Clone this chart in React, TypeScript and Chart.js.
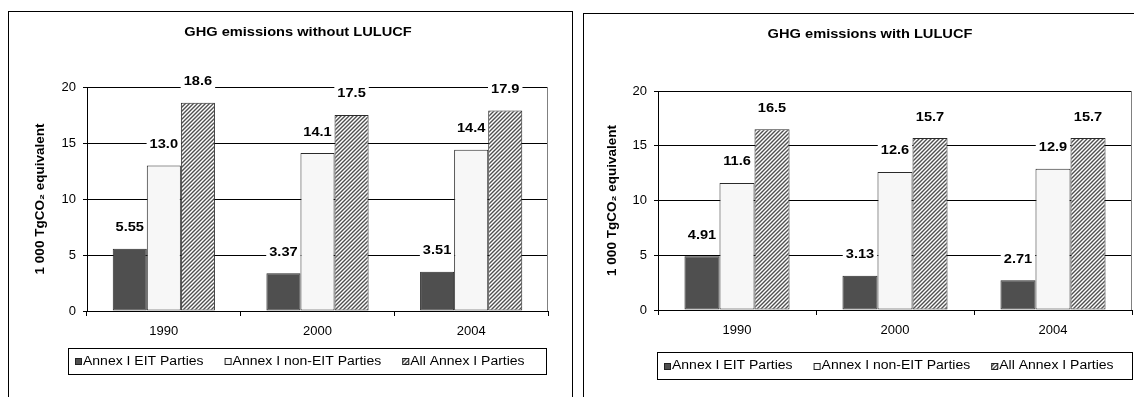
import React, { useEffect, useRef } from "react";
import { Chart, registerables } from "chart.js";

Chart.register(...registerables);

// ---------- data ----------
const categories = ["1990", "2000", "2004"];
const seriesLabels = ["Annex I EIT Parties", "Annex I non-EIT Parties", "All Annex I Parties"];
const withoutEIT = [5.55, 3.37, 3.51];
const withoutNonEIT = [13.0, 14.1, 14.4];
const withoutAll = [18.6, 17.5, 17.9];
const withEIT = [4.91, 3.13, 2.71];
const withNonEIT = [11.6, 12.6, 12.9];
const withAll = [16.5, 15.7, 15.7];
const yTickValues = [0, 5, 10, 15, 20];
const valueDecimals = [2, 1, 1];
const leftTitle = "GHG emissions without LULUCF";
const rightTitle = "GHG emissions with LULUCF";
const yAxisLabel = "1 000 TgCO₂ equivalent";

// ---------- style ----------
const FONT = "'Liberation Sans', Arial, Helvetica, sans-serif";
const SX = 1.17; // horizontal text stretch seen in the reference
const LEGEND_SX = 1.12;
const LABEL_OFF = 21;

type Box = { x: number; y: number; w: number; h: number };
type Layout = {
  width: number;
  height: number;
  plotLeft: number;
  plotRight: number;
  plotTop: number;
  plotBottom: number;
  xAxisH: number;
  titleX: number;
  titleY: number;
  yTitleX: number;
  legend: Box;
};

function makeHatch(ctx: CanvasRenderingContext2D): CanvasPattern | string {
  const p = 4;
  const c = document.createElement("canvas");
  c.width = p;
  c.height = p;
  const g = c.getContext("2d")!;
  g.fillStyle = "#ffffff";
  g.fillRect(0, 0, p, p);
  g.strokeStyle = "#505050";
  g.lineWidth = 1.4;
  g.beginPath();
  g.moveTo(0, p);
  g.lineTo(p, 0);
  g.moveTo(-1, 1);
  g.lineTo(1, -1);
  g.moveTo(p - 1, p + 1);
  g.lineTo(p + 1, p - 1);
  g.stroke();
  return ctx.createPattern(c, "repeat") ?? "#999999";
}

function stretchedText(
  ctx: CanvasRenderingContext2D,
  text: string,
  x: number,
  y: number,
  align: "left" | "center",
  sx: number
): number {
  const w = ctx.measureText(text).width * sx;
  const x0 = align === "center" ? x - w / 2 : x;
  ctx.save();
  ctx.translate(x0, y);
  ctx.scale(sx, 1);
  ctx.textAlign = "left";
  ctx.fillText(text, 0, 0);
  ctx.restore();
  return w;
}

function Panel({ title, series, layout }: { title: string; series: number[][]; layout: Layout }) {
  const ref = useRef<HTMLCanvasElement>(null);

  useEffect(() => {
    const canvas = ref.current!;
    const ctx = canvas.getContext("2d")!;
    const hatch = makeHatch(ctx);
    const fills: any[] = ["#4f4f4f", "#f7f7f7", hatch];
    const L = layout;

    const decor = {
      id: "decor",
      beforeDatasetsDraw(chart: any) {
        const c: CanvasRenderingContext2D = chart.ctx;
        c.save();
        c.font = `bold 12.5px ${FONT}`;
        chart.data.datasets.forEach((ds: any, di: number) => {
          chart.getDatasetMeta(di).data.forEach((el: any, i: number) => {
            const t = (ds.data[i] as number).toFixed(valueDecimals[di]);
            const w = c.measureText(t).width * SX;
            c.fillStyle = "#ffffff";
            c.fillRect(el.x - w / 2 - 3, el.y - LABEL_OFF - 7, w + 6, 14);
          });
        });
        c.restore();
      },
      afterDatasetsDraw(chart: any) {
        const c: CanvasRenderingContext2D = chart.ctx;
        const area = chart.chartArea;
        c.save();

        // plot frame (right edge)
        c.strokeStyle = "#808080";
        c.lineWidth = 1;
        c.beginPath();
        const rx = Math.round(area.right) - 0.5;
        c.moveTo(rx, area.top);
        c.lineTo(rx, area.bottom);
        c.stroke();

        // value labels
        c.fillStyle = "#000000";
        c.textBaseline = "middle";
        c.font = `bold 12.5px ${FONT}`;
        chart.data.datasets.forEach((ds: any, di: number) => {
          chart.getDatasetMeta(di).data.forEach((el: any, i: number) => {
            const t = (ds.data[i] as number).toFixed(valueDecimals[di]);
            stretchedText(c, t, el.x, el.y - LABEL_OFF, "center", SX);
          });
        });

        // chart title
        c.font = `bold 12.5px ${FONT}`;
        stretchedText(c, title, L.titleX, L.titleY, "center", SX);

        // y-axis title
        c.save();
        c.font = `bold 13.5px ${FONT}`;
        c.translate(L.yTitleX, (area.top + area.bottom) / 2);
        c.rotate(-Math.PI / 2);
        c.textAlign = "center";
        c.fillText(yAxisLabel, 0, 0);
        c.restore();

        // legend
        const lg = L.legend;
        c.strokeStyle = "#000000";
        c.lineWidth = 1;
        c.strokeRect(lg.x + 0.5, lg.y + 0.5, lg.w, lg.h);
        c.font = `12.5px ${FONT}`;
        const cy = lg.y + lg.h / 2 + 0.5;
        let x = lg.x + 7;
        chart.data.datasets.forEach((ds: any) => {
          c.fillStyle = ds.backgroundColor;
          c.fillRect(x, Math.round(cy - 3.5), 7, 7);
          c.strokeStyle = "#222222";
          c.strokeRect(x + 0.5, Math.round(cy - 3.5) + 0.5, 6, 6);
          c.fillStyle = "#000000";
          const w = stretchedText(c, ds.label, x + 8, cy, "left", LEGEND_SX);
          x += 8 + w + 21;
        });

        c.restore();
      },
    };

    const chart = new Chart(canvas, {
      type: "bar",
      data: {
        labels: categories,
        datasets: series.map((d, i) => ({
          label: seriesLabels[i],
          data: d,
          backgroundColor: fills[i],
          borderColor: "#2a2a2a",
          borderWidth: 1,
          borderSkipped: false,
          categoryPercentage: 0.665,
          barPercentage: 1,
        })),
      },
      options: {
        responsive: false,
        maintainAspectRatio: false,
        animation: false,
        devicePixelRatio: 1,
        layout: {
          padding: {
            left: 0,
            top: L.plotTop,
            right: L.width - L.plotRight,
            bottom: L.height - L.plotBottom - L.xAxisH,
          },
        },
        plugins: {
          legend: { display: false },
          title: { display: false },
          tooltip: { enabled: false },
        },
        scales: {
          x: {
            offset: true,
            grid: {
              offset: true,
              drawOnChartArea: false,
              drawTicks: true,
              tickLength: 5,
              color: "#000000",
              lineWidth: 1,
            },
            border: { display: true, color: "#000000", width: 1 },
            ticks: { color: "#000000", font: { family: FONT, size: 13 }, padding: 8, maxRotation: 0 },
            afterFit: (s: any) => {
              s.height = L.xAxisH;
            },
          },
          y: {
            min: 0,
            max: 20,
            afterBuildTicks: (s: any) => {
              s.ticks = yTickValues.map((v) => ({ value: v }));
            },
            ticks: { color: "#000000", font: { family: FONT, size: 13 }, padding: 7 },
            grid: { color: "#000000", lineWidth: 1, tickLength: 4, drawTicks: true },
            border: { display: true, color: "#000000", width: 1 },
            afterFit: (s: any) => {
              s.width = L.plotLeft;
            },
          },
        },
      },
      plugins: [decor],
    } as any);

    return () => chart.destroy();
  }, []);

  return (
    <canvas
      ref={ref}
      width={layout.width}
      height={layout.height}
      style={{ position: "absolute", left: 0, top: 0, width: layout.width, height: layout.height }}
    />
  );
}

const leftLayout: Layout = {
  width: 563,
  height: 385,
  plotLeft: 78,
  plotRight: 539,
  plotTop: 75,
  plotBottom: 299,
  xAxisH: 30,
  titleX: 289,
  titleY: 21,
  yTitleX: 31,
  legend: { x: 59, y: 336, w: 478, h: 26 },
};

const rightLayout: Layout = {
  width: 550,
  height: 383,
  plotLeft: 74,
  plotRight: 548,
  plotTop: 77,
  plotBottom: 296,
  xAxisH: 30,
  titleX: 286,
  titleY: 21,
  yTitleX: 28,
  legend: { x: 73, y: 338, w: 475, h: 27 },
};

export default function App() {
  return (
    <div
      style={{
        position: "absolute",
        left: 0,
        top: 0,
        width: 1134,
        height: 397,
        overflow: "hidden",
        background: "#ffffff",
      }}
    >
      <div style={{ position: "absolute", left: 8, top: 11, width: 563, height: 420, border: "1px solid #000" }}>
        <Panel title={leftTitle} series={[withoutEIT, withoutNonEIT, withoutAll]} layout={leftLayout} />
      </div>
      <div style={{ position: "absolute", left: 583, top: 13, width: 600, height: 420, border: "1px solid #000" }}>
        <Panel title={rightTitle} series={[withEIT, withNonEIT, withAll]} layout={rightLayout} />
      </div>
    </div>
  );
}
